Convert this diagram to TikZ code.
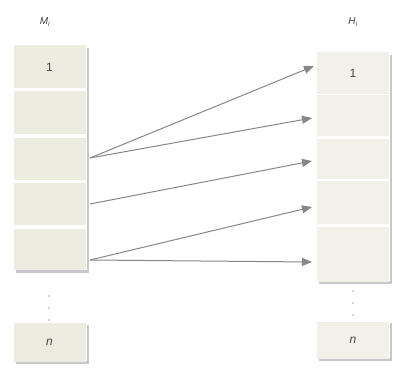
\documentclass[tikz,border=0pt]{standalone}
\usepackage{fontspec}
\setmainfont{Liberation Sans}
\usetikzlibrary{arrows.meta}
\definecolor{cellc}{RGB}{236,236,225}
\definecolor{cellr}{RGB}{241,241,233}
\definecolor{shadowc}{RGB}{200,200,204}
\definecolor{arrc}{RGB}{135,135,135}
\definecolor{txtc}{RGB}{70,70,70}
\begin{document}
\begin{tikzpicture}[x=1pt,y=-1pt,
  cell/.style={fill=cellc,draw=none,minimum width=72pt,inner sep=0pt,text=txtc,font=\fontsize{12}{12}\selectfont},
  cellR/.style={cell,fill=cellr},
  conn/.style={draw=arrc,line width=1pt,-{Triangle[length=10pt,width=8pt]}},
  dot/.style={circle,fill=shadowc,inner sep=0.8pt},
  lab/.style={text=txtc,font=\fontsize{10}{10}\selectfont\itshape}]
\useasboundingbox (0,0) rectangle (396,377);
\fill[white] (0,0) rectangle (396,377);
% shadows
\fill[shadowc] (86.5,48) rectangle (89,272);
\fill[shadowc] (16,270) rectangle (89,272.5);
\fill[shadowc] (86.5,325) rectangle (89,364);
\fill[shadowc] (16,361) rectangle (89,363.5);
\fill[shadowc] (389.5,55) rectangle (392,284);
\fill[shadowc] (319,281) rectangle (392,283.5);
\fill[shadowc] (389.5,323) rectangle (392,361);
\fill[shadowc] (319,358) rectangle (392,360.5);
% left column
\node[lab] (mlab) at (45,22) {M\textsubscript{i}};
\node[cell,minimum height=43pt] (m1) at (49.5,67) {1};
\node[cell,minimum height=43pt] (m2) at (49.5,113) {};
\node[cell,minimum height=42pt] (m3) at (49.5,159) {};
\node[cell,minimum height=42pt] (m4) at (49.5,204) {};
\node[cell,minimum height=41pt] (m5) at (49.5,249) {};
\node[dot] (md1) at (49,296) {};
\node[dot] (md2) at (49,308) {};
\node[dot] (md3) at (49,320) {};
\node[cell,minimum height=39pt] (mn) at (49.5,342) {\itshape n};
% right column
\node[lab] (hlab) at (353,22) {H\textsubscript{i}};
\node[cellR,minimum height=42pt] (h1) at (353,73) {1};
\node[cellR,minimum height=41pt] (h2) at (353,116) {};
\node[cellR,minimum height=40pt] (h3) at (353,159) {};
\node[cellR,minimum height=43pt] (h4) at (353,202) {};
\node[cellR,minimum height=55pt] (h5) at (353,254) {};
\node[dot] (hd1) at (353,291) {};
\node[dot] (hd2) at (353,303) {};
\node[dot] (hd3) at (353,315) {};
\node[cellR,minimum height=37pt] (hn) at (353,340) {\itshape n};
% connector anchors
\coordinate (s1) at (90,158);
\coordinate (s2) at (90,204);
\coordinate (s3) at (90,260);
\coordinate (t1) at (314,66);
\coordinate (t2) at (312,118);
\coordinate (t3) at (312,161);
\coordinate (t4) at (312,207);
\coordinate (t5) at (312,262);
\draw[conn] (s1) -- (t1);
\draw[conn] (s1) -- (t2);
\draw[conn] (s2) -- (t3);
\draw[conn] (s3) -- (t4);
\draw[conn] (s3) -- (t5);
\end{tikzpicture}
\end{document}
